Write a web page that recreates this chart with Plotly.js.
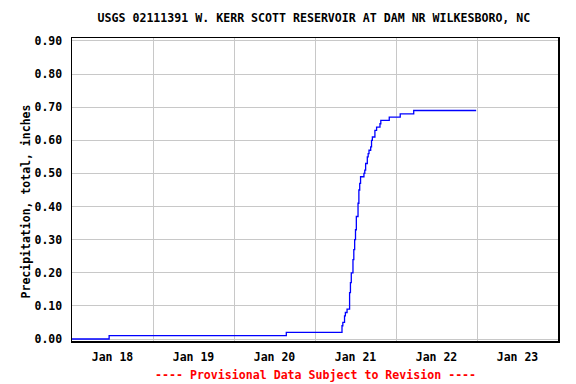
<!DOCTYPE html>
<html>
<head>
<meta charset="utf-8">
<script src="https://cdn.plot.ly/plotly-3.0.1.min.js"></script>
<style>html,body{margin:0;padding:0;background:#fff;}#chart{width:576px;height:384px;}</style>
</head>
<body>
<div id="chart"></div>
<script>
// Timestamps (local) and cumulative precipitation values, inches
const times = [
  "2024-01-18 00:00", "2024-01-18 11:00", "2024-01-20 15:30",
  "2024-01-21 08:00", "2024-01-21 08:15", "2024-01-21 08:45", "2024-01-21 09:00",
  "2024-01-21 09:30", "2024-01-21 10:15", "2024-01-21 10:30", "2024-01-21 10:45",
  "2024-01-21 11:15", "2024-01-21 11:30", "2024-01-21 11:45", "2024-01-21 12:00",
  "2024-01-21 12:15", "2024-01-21 12:45", "2024-01-21 13:00", "2024-01-21 13:15",
  "2024-01-21 13:30", "2024-01-21 14:30", "2024-01-21 14:45", "2024-01-21 15:00",
  "2024-01-21 15:30", "2024-01-21 15:45", "2024-01-21 16:00", "2024-01-21 16:30",
  "2024-01-21 16:45", "2024-01-21 17:00", "2024-01-21 17:45", "2024-01-21 18:15",
  "2024-01-21 19:15", "2024-01-21 19:30", "2024-01-21 22:00", "2024-01-22 01:15",
  "2024-01-22 05:15", "2024-01-22 23:45"
];
const precip = [
  0.00, 0.01, 0.02,
  0.04, 0.05, 0.07, 0.08,
  0.09, 0.14, 0.17, 0.20,
  0.24, 0.27, 0.30, 0.33,
  0.37, 0.41, 0.45, 0.47,
  0.49, 0.50, 0.51, 0.53,
  0.55, 0.56, 0.57, 0.58,
  0.60, 0.61, 0.63, 0.64,
  0.65, 0.66, 0.67, 0.68,
  0.69, 0.69
];
const titleText = "USGS 02111391 W. KERR SCOTT RESERVOIR AT DAM NR WILKESBORO, NC";
const yTitle = "Precipitation, total, inches";
const footer = "---- Provisional Data Subject to Revision ----";
const xRange = ["2024-01-18 00:00", "2024-01-24 00:00"];

const FONT = "DejaVu Sans Mono, monospace";
const trace = {
  x: times, y: precip, type: "scatter", mode: "lines",
  line: {color: "#0000ff", width: 1.3, shape: "hv"},
  hoverinfo: "skip"
};
const layout = {
  width: 576, height: 384,
  margin: {l: 72, r: 18, t: 38, b: 43, pad: 0},
  paper_bgcolor: "#ffffff", plot_bgcolor: "#ffffff",
  showlegend: false,
  font: {family: FONT, size: 11.5, color: "#000", weight: "bold"},
  title: {text: titleText, x: 0.545, xanchor: "center", y: 0.953, yanchor: "middle",
          font: {family: FONT, size: 11.6, color: "#000", weight: "bold"}},
  xaxis: {
    type: "date", range: xRange,
    tick0: "2024-01-18", dtick: 86400000, tickformat: "%b %d",
    ticklabelmode: "period", ticks: "", ticklabelstandoff: 4,
    showgrid: true, gridcolor: "#c8c8c8", gridwidth: 1,
    showline: true, linecolor: "#000", linewidth: 2, mirror: false,
    zeroline: false, fixedrange: true,
    tickfont: {family: FONT, size: 11.5, color: "#000", weight: "bold"}
  },
  xaxis2: {
    overlaying: "x", type: "date", range: xRange, showgrid: false,
    showticklabels: false, showline: true, linecolor: "#000", linewidth: 1.5,
    side: "top", zeroline: false
  },
  yaxis: {
    range: [-0.006, 0.909], dtick: 0.1, tick0: 0, tickformat: ".2f",
    ticks: "", ticklabelstandoff: 6,
    showgrid: true, gridcolor: "#c8c8c8", gridwidth: 1,
    showline: true, linecolor: "#000", linewidth: 1.5, mirror: true,
    zeroline: false, fixedrange: true,
    tickfont: {family: FONT, size: 11.5, color: "#000", weight: "bold"}
  },
  annotations: [
    {text: yTitle, xref: "paper", yref: "paper", x: -0.095, y: 0.46,
     xanchor: "center", yanchor: "middle", textangle: -90, showarrow: false,
     font: {family: FONT, size: 11.5, color: "#000", weight: "bold"}},
    {text: footer, xref: "paper", yref: "paper", x: 0.5, y: -0.083,
     xanchor: "center", yanchor: "top", showarrow: false, yshift: 0,
     font: {family: FONT, size: 11.6, color: "#ff0000", weight: "bold"}}
  ]
};
Plotly.newPlot("chart", [trace, {x: [], y: [], xaxis: "x2", type: "scatter"}], layout, {staticPlot: true, displayModeBar: false});
</script>
</body>
</html>
